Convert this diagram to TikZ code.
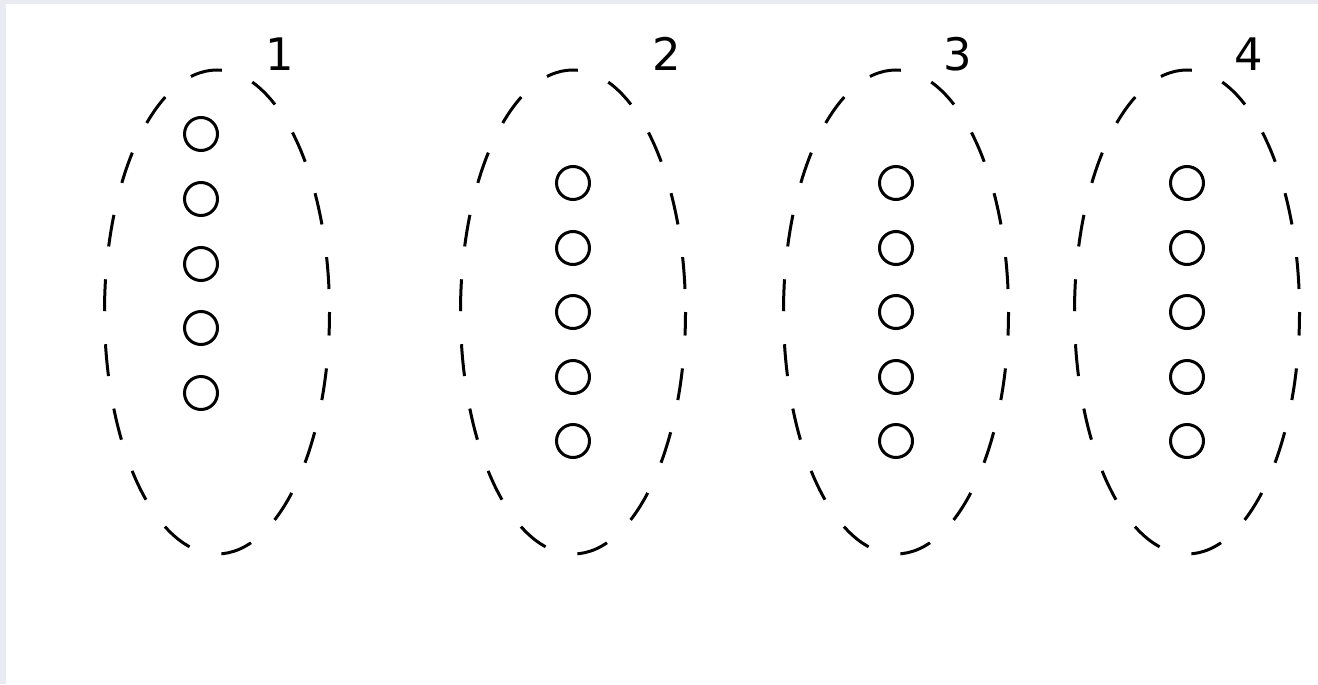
\documentclass[tikz,border=0pt]{standalone}
\usepackage{fontspec}
\setmainfont{DejaVu Sans}
\usepackage{xcolor}
\definecolor{frameGrey}{HTML}{EAEAF2}
\usepackage{tikz}
\usetikzlibrary{positioning}

\begin{document}
\begin{tikzpicture}[
        x=0.02cm, y=0.02cm,
        dotNode/.style={
            circle,
            draw=black,
            line width=0.06cm,
            inner sep=0pt,
            minimum size=0.66cm
        },
        groupOval/.style={
            draw=black,
            line width=0.06cm,
            dash pattern=on 0.64cm off 0.66cm,
            dash phase=0.84cm
        },
        groupLabel/.style={
            font=\fontsize{25.5}{30}\selectfont,
            inner sep=0pt
        }
    ]

    % Canvas (light frame on the left and top)
    \useasboundingbox (0,0) rectangle (1318,684);
    \fill[frameGrey] (0,0) rectangle (1318,684);
    \fill[white] (6,0) rectangle (1318,680);

    % Group centres
    \coordinate (g1) at (217,372);
    \coordinate (g2) at (573,372);
    \coordinate (g3) at (896,372);
    \coordinate (g4) at (1187,372);

    % Dashed ovals
    \foreach \g in {g1,g2,g3,g4}
        \draw[groupOval] (\g) ellipse[x radius=112.5, y radius=242];

    % Labels
    \node[groupLabel] (lab1) at (280,630) {1};
    \node[groupLabel] (lab2) at (667,630) {2};
    \node[groupLabel] (lab3) at (958,630) {3};
    \node[groupLabel] (lab4) at (1249,630) {4};

    % Members of group 1 (shifted up and left)
    \foreach \i/\y in {1/550, 2/485, 3/420, 4/356, 5/291}
        \node[dotNode] (a\i) at (201,\y) {};

    % Members of groups 2 to 4
    \foreach \g/\x in {b/573, c/896, d/1187}
        \foreach \i/\y in {1/501, 2/436, 3/372, 4/307, 5/243}
            \node[dotNode] (\g\i) at (\x,\y) {};

\end{tikzpicture}
\end{document}
